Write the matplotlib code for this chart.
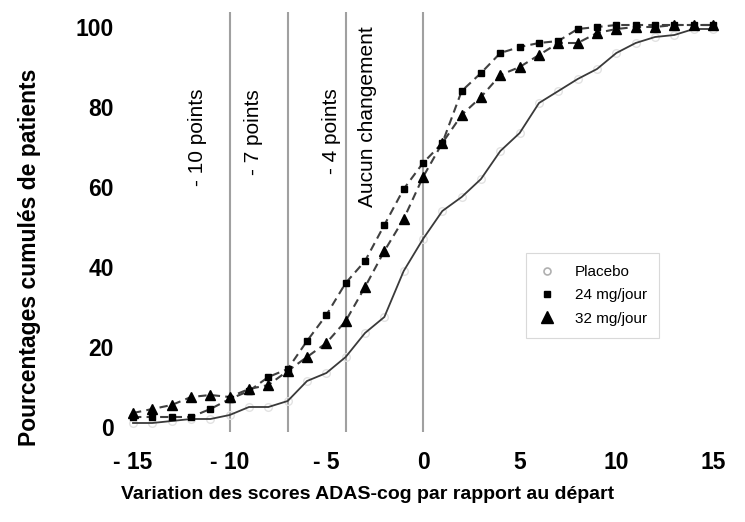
import matplotlib
matplotlib.use("Agg")
import matplotlib.pyplot as plt
from matplotlib.lines import Line2D

plt.rcParams['font.family'] = ['Liberation Sans', 'DejaVu Sans']

# ---- data ----
x_vals = list(range(-15, 16))
placebo = [1, 1, 1.5, 2, 2, 3, 5, 5, 6.5, 11.5, 13.5, 17.5, 23.5, 27.5, 39, 47,
           54, 57.5, 62, 69, 73.5, 81, 84, 87, 89.5, 93.5, 96, 97.5, 98, 99.5, 99.5]
mg24 = [2.5, 2.5, 2.5, 2.5, 4.5, 7, 9, 12.5, 14.5, 21.5, 28, 36, 41.5, 50.5, 59.5, 66,
        71, 84, 88.5, 93.5, 95, 96, 96.5, 99.5, 100, 100.5, 100.5, 100.5, 100.5, 100.5, 100.5]
mg32 = [3.5, 4.5, 5.5, 7.5, 8, 7.5, 9.5, 10.5, 14, 17.5, 21, 26.5, 35, 44, 52, 62.5,
        71, 78, 82.5, 88, 90, 93, 96, 96, 98.5, 99.5, 100, 100, 100.5, 100.5, 100.5]

ref_lines = [-10, -7, -4, 0]
ref_labels = ["- 10 points", "- 7 points", "- 4 points", "Aucun changement"]
ref_label_x = [-11.64, -8.79, -4.71, -2.85]
ref_label_y = [72.5, 73.75, 74, 77.5]

xticks = [-15, -10, -5, 0, 5, 10, 15]
xtick_labels = ["- 15", "- 10", "- 5", "0", "5", "10", "15"]
yticks = [0, 20, 40, 60, 80, 100]

legend_labels = ["Placebo", "24 mg/jour", "32 mg/jour"]

# ---- figure ----
fig = plt.figure(figsize=(7.45, 5.22), dpi=100)
ax = fig.add_axes([128/745, 90/522, 599.5/745, 420/522])

for xv in ref_lines:
    ax.axvline(xv, color='#a0a0a0', lw=1.5, zorder=1)

ax.plot(x_vals, placebo, color='#3a3a3a', lw=1.3, zorder=3)
ax.plot(x_vals, placebo, linestyle='none', marker='o', ms=5.5, mfc='none',
        mec='#e2e2e2', mew=1.0, zorder=2)
ax.plot(x_vals, mg24, color='#404040', lw=1.5, ls=(0, (4, 2.5)), zorder=3)
ax.plot(x_vals, mg24, linestyle='none', marker='s', ms=4.5, color='black', zorder=4)
ax.plot(x_vals, mg32, color='#404040', lw=1.5, ls=(0, (4, 2.5)), zorder=3)
ax.plot(x_vals, mg32, linestyle='none', marker='^', ms=7.5, color='black', zorder=4)

for lx, ly, txt in zip(ref_label_x, ref_label_y, ref_labels):
    ax.text(lx, ly, txt, rotation=90, ha='center', va='center', fontsize=15,
            color='black')

ax.set_xlim(-15.26, 15.75)
ax.set_ylim(-1.25, 103.75)
ax.set_xticks(xticks)
ax.set_xticklabels(xtick_labels)
ax.set_yticks(yticks)
for s in ax.spines.values():
    s.set_visible(False)
ax.tick_params(axis='both', length=0, labelsize=16.5)
ax.tick_params(axis='x', pad=14)
ax.tick_params(axis='y', pad=10)
for t in ax.get_xticklabels() + ax.get_yticklabels():
    t.set_fontweight('bold')

ax.set_xlabel("Variation des scores ADAS-cog par rapport au départ",
              fontsize=14, fontweight='bold')
ax.xaxis.set_label_coords(0.40, -0.128)
ax.set_ylabel("Pourcentages cumulés de patients", fontsize=16.5,
              fontweight='bold')
ax.yaxis.set_label_coords(-0.145, 0.417)

handles = [
    Line2D([], [], linestyle='none', marker='o', ms=5, mfc='none', mec='#b0b0b0', mew=1.2),
    Line2D([], [], linestyle='none', marker='s', ms=4.5, color='black'),
    Line2D([], [], linestyle='none', marker='^', ms=8, color='black'),
]
leg = ax.legend(handles, legend_labels, loc='upper left',
                bbox_to_anchor=(0.664, 0.426), borderaxespad=0, fontsize=11,
                frameon=True, fancybox=False, edgecolor='#d0d0d0',
                handlelength=1.2, handletextpad=1.2, borderpad=0.8,
                labelspacing=0.6)
leg.get_frame().set_linewidth(0.8)

fig.savefig("out.png", dpi=100)
